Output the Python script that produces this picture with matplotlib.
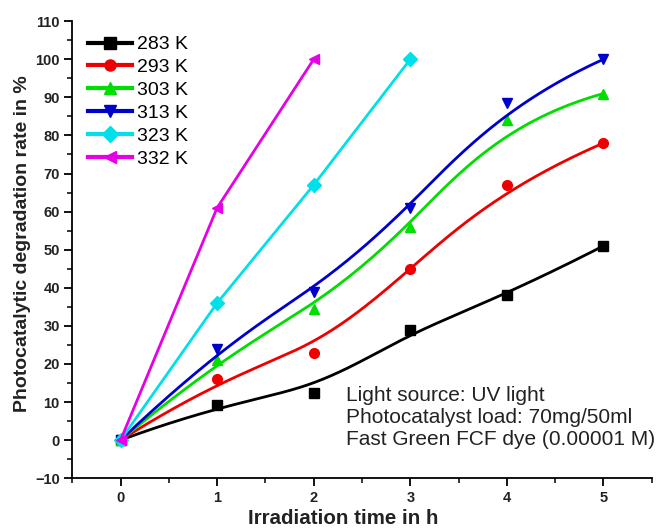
import numpy as np
import matplotlib.pyplot as plt

plt.rcParams['font.family'] = ['Liberation Sans', 'DejaVu Sans']

t6 = [0, 1, 2, 3, 4, 5]
t4 = [0, 1, 2, 3]
t3 = [0, 1, 2]
k283 = [0, 9.3, 12.3, 29, 38, 51]
k293 = [0, 16, 23, 45, 67, 78]
k303 = [0, 21, 34.5, 56, 84, 91]
k313 = [0, 24, 39, 61, 88.5, 100]
k323 = [0, 36, 67, 100]
k332 = [0, 61, 100]

series = [
    ("283 K", t6, k283, "black", "s"),
    ("293 K", t6, k293, "#ee0000", "o"),
    ("303 K", t6, k303, "#00dd00", "^"),
    ("313 K", t6, k313, "#0000cc", "v"),
    ("323 K", t4, k323, "#00e0e8", "D"),
    ("332 K", t3, k332, "#e600e6", "<"),
]


def bspline(px, py, k=3, n=300):
    # clamped B-spline using the points as control points
    px = np.asarray(px, float)
    py = np.asarray(py, float)
    m = len(px)
    k = min(k, m - 1)
    knots = np.concatenate([np.zeros(k), np.linspace(0, 1, m - k + 1), np.ones(k)])
    u = np.linspace(0, 1, n)
    u[-1] = 1 - 1e-9

    def basis(i, d, u):
        if d == 0:
            return ((knots[i] <= u) & (u < knots[i + 1])).astype(float)
        a = 0.0
        b = 0.0
        if knots[i + d] != knots[i]:
            a = (u - knots[i]) / (knots[i + d] - knots[i]) * basis(i, d - 1, u)
        if knots[i + d + 1] != knots[i + 1]:
            b = (knots[i + d + 1] - u) / (knots[i + d + 1] - knots[i + 1]) * basis(i + 1, d - 1, u)
        return a + b

    B = np.array([basis(i, k, u) for i in range(m)])
    return B.T @ px, B.T @ py


fig = plt.figure(figsize=(6.57, 5.29), dpi=100)
ax = fig.add_axes([0.11, 0.096, 0.882, 0.864])

for name, x, y, c, m in series:
    if len(x) > 4:
        xs, ys = bspline(x, y)
    else:
        xs, ys = x, y
    ax.plot(xs, ys, color=c, lw=2)
    ax.plot(x, y, ls="none", marker=m, color=c, ms=7)
    ax.plot([], [], color=c, lw=3, marker=m, ms=8, label=name)

ax.set_xlim(-0.5, 5.5)
ax.set_ylim(-10, 110)
ax.set_xticks(range(0, 6))
ax.set_xticks(np.arange(-0.5, 5.6, 0.5), minor=True)
ax.set_yticks(range(-10, 111, 10))
ax.set_yticks(range(-10, 111, 5), minor=True)
ax.spines['top'].set_visible(False)
ax.spines['right'].set_visible(False)
ax.spines['left'].set_linewidth(1.3)
ax.spines['bottom'].set_linewidth(1.3)
ax.tick_params(direction='out', length=6, width=1.3, labelsize=10.5, pad=3)
ax.tick_params(which='minor', direction='out', length=3.5, width=1.1)
for lab in ax.get_xticklabels() + ax.get_yticklabels():
    lab.set_fontweight('bold')
    lab.set_color('#222222')

ax.set_xlabel("Irradiation time in h", fontsize=14.8, fontweight='bold', color='#222222')
ax.set_ylabel("Photocatalytic degradation rate in %", fontsize=14, fontweight='bold',
              color='#222222')
ax.xaxis.set_label_coords(0.467, -0.068)
ax.yaxis.set_label_coords(-0.072, 0.514)

ax.legend(loc='upper left', frameon=False, fontsize=14, handlelength=2.3,
          handletextpad=0.25, labelspacing=0.27, borderaxespad=0.0,
          bbox_to_anchor=(0.013, 0.985))

ax.text(2.33, 14.3, "Light source: UV light\nPhotocatalyst load: 70mg/50ml\nFast Green FCF dye (0.00001 M)",
        fontsize=15, va='top', ha='left', linespacing=1.2, color='#222222')

fig.savefig("out.png", dpi=100)
